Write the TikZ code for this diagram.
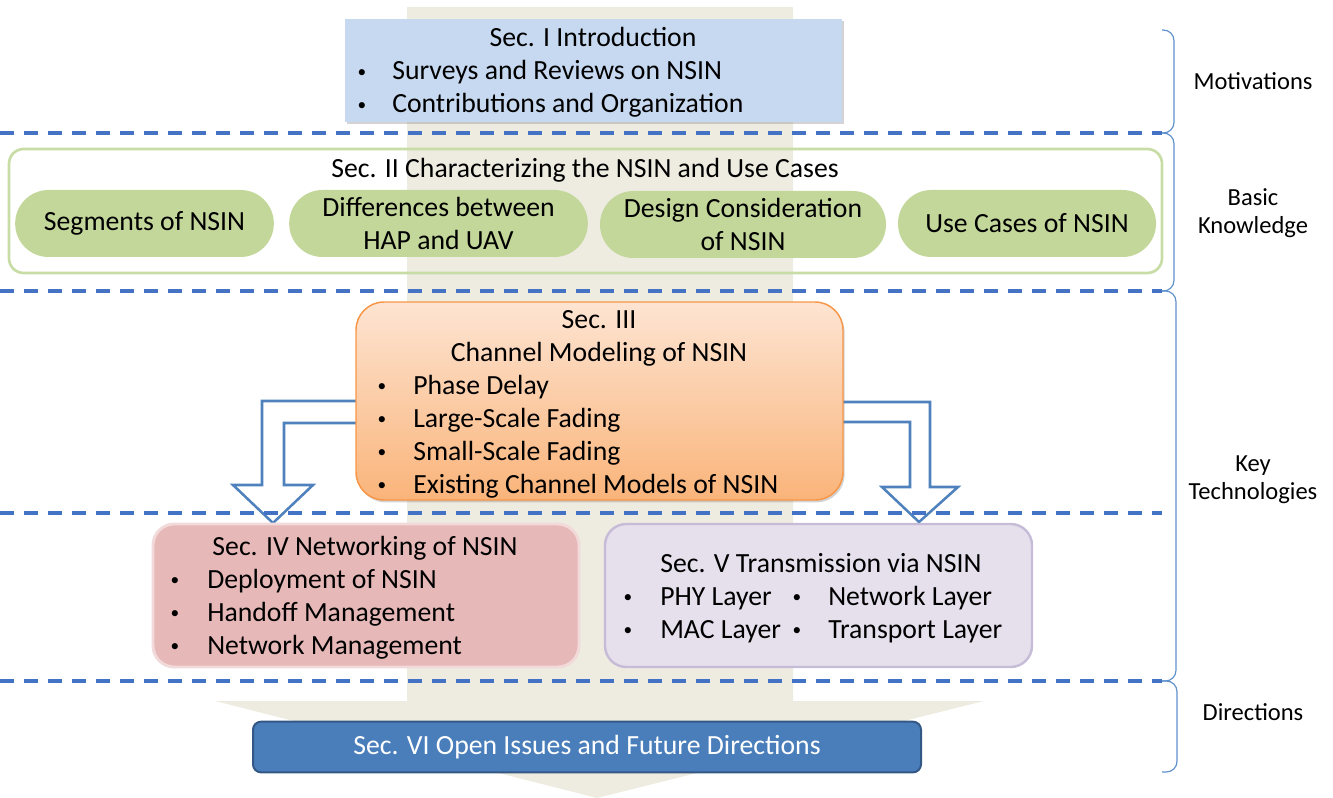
\documentclass[tikz,border=0pt]{standalone}
\usepackage{fontspec}
\setmainfont{Carlito}
\usepackage{xcolor}
\usetikzlibrary{arrows.meta,calc,positioning,fit,shadows}

\definecolor{bandbeige}{RGB}{238,236,225}
\definecolor{dashblue}{RGB}{68,114,196}
\definecolor{bracketblue}{RGB}{95,145,205}
\definecolor{arrowblue}{RGB}{79,129,189}
\definecolor{introblue}{RGB}{198,217,240}
\definecolor{pillgreen}{RGB}{196,215,155}
\definecolor{framegreen}{RGB}{200,220,165}
\definecolor{peachtop}{RGB}{253,228,210}
\definecolor{peachbottom}{RGB}{250,180,122}
\definecolor{peachline}{RGB}{247,150,70}
\definecolor{netred}{RGB}{230,185,184}
\definecolor{netline}{RGB}{242,218,218}
\definecolor{translilac}{RGB}{229,224,236}
\definecolor{transline}{RGB}{198,188,216}
\definecolor{openblue}{RGB}{74,126,187}
\definecolor{openline}{RGB}{52,88,134}

\newcommand{\itemdot}{\raisebox{2.2pt}{\textbullet}}

\begin{document}
\begin{tikzpicture}[
    x=0.75pt,
    y=-0.75pt,
    bodytext/.style={
        font=\fontsize{20.8}{24.75}\selectfont,
        inner sep=0pt
    },
    headtext/.style={bodytext, anchor=base},
    itemtext/.style={bodytext, anchor=base west},
    dottext/.style={
        font=\fontsize{13}{13}\selectfont,
        inner sep=0pt,
        anchor=base
    },
    sidetext/.style={
        font=\fontsize{18.4}{21.3}\selectfont,
        align=center,
        inner sep=0pt
    },
    sepline/.style={
        draw=dashblue,
        line width=2.5pt,
        dash pattern=on 10.5pt off 7.5pt
    },
    bracketline/.style={
        draw=bracketblue,
        line width=0.9pt,
        rounded corners=8pt
    },
    pillbox/.style={
        bodytext,
        fill=pillgreen,
        rounded corners=25pt,
        minimum height=50.25pt,
        align=center
    },
    blockarrow/.style={
        draw=arrowblue,
        line width=1.9pt,
        fill=white
    },
    softshadow/.style={
        drop shadow={opacity=0.35,shadow xshift=1.2pt,shadow yshift=-1.8pt}
    }
]

\useasboundingbox (0,0) rectangle (1333,798);

% Background arrow
\fill[bandbeige]
(407,7) -- (793,7) -- (793,701) -- (984,701)
-- (597,798) -- (215,701) -- (407,701) -- cycle;

% Block arrows out of Sec. III
\draw[blockarrow]
(360,401) -- (262,401) -- (262,485) -- (233,485)
-- (273,523) -- (313,485) -- (284,485) -- (284,423) -- (360,423);

\draw[blockarrow]
(840,402) -- (930,402) -- (930,487) -- (958,487)
-- (919,522) -- (882,487) -- (910,487) -- (910,422) -- (840,422);

% Separators
\foreach \y in {133,291,513,681}
    \draw[sepline] (0,\y) -- (1162,\y);

% Side brackets
\draw[bracketline] (1162,30) -| (1174,133) -- (1162,133);
\draw[bracketline] (1162,133) -| (1174,291) -- (1162,291);
\draw[bracketline] (1162,291) -| (1176,681) -- (1162,681);
\draw[bracketline] (1162,681) -| (1177,772) -- (1162,772);

\node[sidetext] (motivlabel) at (1253,81) {Motivations};
\node[sidetext] (basiclabel) at (1253,213) {Basic\\Knowledge};
\node[sidetext] (keylabel) at (1253,480) {Key\\Technologies};
\node[sidetext] (dirlabel) at (1253,712) {Directions};

% Sec. I
\node[fill=introblue, inner sep=0pt, softshadow,
      fit={(345,19) (842,122)}] (intro) {};
\node[headtext] (introhead) at (593,47) {Sec. I Introduction};
\node[dottext] (introdot1) at (362,80) {\itemdot};
\node[itemtext] (introitem1) at (392,80) {Surveys and Reviews on NSIN};
\node[dottext] (introdot2) at (362,113) {\itemdot};
\node[itemtext] (introitem2) at (392,113) {Contributions and Organization};

% Sec. II
\node[draw=framegreen, line width=2pt,
      rounded corners=11pt, inner sep=0pt,
      fit={(9,149) (1162,273)}] (charact) {};
\node[headtext] (characthead) at (585,178)
{Sec. II Characterizing the NSIN and Use Cases};

\node[pillbox, minimum width=194pt] (segments) at (144.5,223.5)
{Segments of NSIN};
\node[pillbox, minimum width=224pt] (diffs) at (438.5,223.5)
{Differences between\\HAP and UAV};
\node[pillbox, minimum width=214.5pt] (design) at (743,224.5)
{Design Consideration\\of NSIN};
\node[pillbox, minimum width=193.5pt] (usecases) at (1027,223.5)
{Use Cases of NSIN};

% Sec. III
\node[draw=peachline, line width=1.1pt, top color=peachtop,
      bottom color=peachbottom, rounded corners=21pt, inner sep=0pt,
      softshadow, fit={(356,302) (843,500)}] (channel) {};
\node[headtext] (channelhead1) at (599,328) {Sec. III};
\node[headtext] (channelhead2) at (599,361) {Channel Modeling of NSIN};
\foreach \txt [count=\i] in {Phase Delay,Large-Scale Fading,
    Small-Scale Fading,Existing Channel Models of NSIN} {
    \node[dottext] (channeldot\i) at (382,361+33*\i) {\itemdot};
    \node[itemtext] (channelitem\i) at (413,361+33*\i) {\txt};
}

% Sec. IV
\node[draw=netline, line width=2.2pt, fill=netred,
      rounded corners=16pt, inner sep=0pt,
      fit={(153,524) (579,667)}] (network) {};
\node[headtext] (networkhead) at (365,555) {Sec. IV Networking of NSIN};
\foreach \txt [count=\i] in {Deployment of NSIN,Handoff Management,
    Network Management} {
    \node[dottext] (networkdot\i) at (175,555+33*\i) {\itemdot};
    \node[itemtext] (networkitem\i) at (207,555+33*\i) {\txt};
}

% Sec. V
\node[draw=transline, line width=1.8pt, fill=translilac,
      rounded corners=16pt, inner sep=0pt,
      fit={(605,524) (1032,667)}] (transmit) {};
\node[itemtext] (transmithead) at (660,572) {Sec. V Transmission via NSIN};
\node[dottext] (transdot1) at (628,605) {\itemdot};
\node[itemtext] (transitem1) at (660,605) {PHY Layer};
\node[dottext] (transdot2) at (628,638) {\itemdot};
\node[itemtext] (transitem2) at (660,638) {MAC Layer};
\node[dottext] (transdot3) at (797,605) {\itemdot};
\node[itemtext] (transitem3) at (828,605) {Network Layer};
\node[dottext] (transdot4) at (797,638) {\itemdot};
\node[itemtext] (transitem4) at (828,638) {Transport Layer};

% Sec. VI
\node[bodytext, draw=openline, line width=1.5pt, fill=openblue,
      text=white, rounded corners=6pt,
      minimum width=501pt, minimum height=38pt] (openissues) at (587,747)
{Sec. VI Open Issues and Future Directions};

\end{tikzpicture}
\end{document}
